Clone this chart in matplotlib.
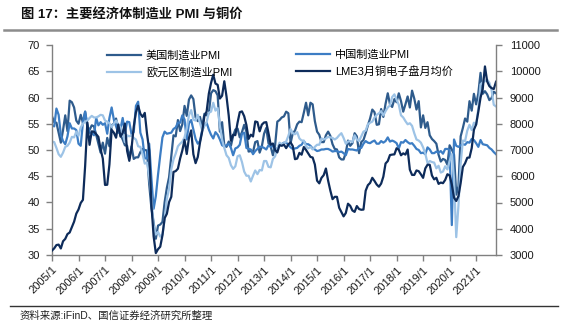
import matplotlib
matplotlib.use("Agg")
import matplotlib.pyplot as plt
import numpy as np

plt.rcParams['font.family'] = ['Liberation Sans', 'Noto Sans CJK SC', 'DejaVu Sans']

# ---------------- data (monthly, 2005/1 - 2021/10) ----------------
us_pmi = [
    56.4, 55.3, 55.2, 53.3, 51.4, 53.8, 56.6, 53.6, 59.4, 59.1, 58.1, 55.6,
    55.0, 56.7, 55.2, 57.3, 54.4, 53.8, 54.7, 54.5, 52.9, 51.2, 49.5, 51.4,
    49.3, 52.3, 50.7, 54.7, 55.0, 56.0, 53.8, 52.9, 52.0, 50.9, 50.8, 48.4,
    50.7, 48.3, 48.6, 48.6, 49.6, 50.2, 50.0, 49.9, 43.5, 38.9, 36.2, 33.1,
    35.6, 35.8, 36.3, 40.1, 42.8, 44.8, 48.9, 52.8, 52.6, 55.7, 53.6, 54.9,
    58.4, 56.5, 59.6, 60.4, 59.7, 56.2, 55.5, 56.3, 54.4, 56.9, 56.6, 57.0,
    60.8, 61.4, 61.2, 60.4, 53.5, 55.3, 50.9, 50.6, 51.6, 50.8, 52.7, 53.9,
    54.1, 52.4, 53.4, 54.8, 53.5, 49.7, 49.8, 49.6, 51.5, 51.7, 49.5, 50.7,
    53.1, 54.2, 51.3, 50.7, 49.0, 50.9, 55.4, 55.7, 56.2, 56.4, 57.3, 57.0,
    51.3, 53.2, 53.7, 54.9, 55.4, 55.3, 57.1, 59.0, 56.6, 59.0, 58.7, 55.5,
    53.5, 52.9, 51.5, 51.5, 52.8, 53.5, 52.7, 51.1, 50.2, 50.1, 48.6, 48.2,
    48.2, 49.5, 51.8, 50.8, 51.3, 53.2, 52.6, 49.4, 51.5, 51.9, 53.2, 54.7,
    56.0, 57.7, 57.2, 54.8, 54.9, 57.8, 56.3, 58.8, 60.8, 58.7, 58.2, 59.7,
    59.1, 60.8, 59.3, 57.3, 58.7, 60.2, 58.1, 61.3, 59.8, 57.7, 59.3, 54.3,
    56.6, 54.2, 55.3, 52.8, 52.1, 51.7, 51.2, 49.1, 47.8, 48.3, 48.1, 47.2,
    50.9, 50.1, 49.1, 41.5, 43.1, 52.6, 54.2, 56.0, 55.4, 59.3, 57.5, 60.7,
    58.7, 60.8, 64.7, 60.7, 61.2, 60.6, 59.5, 59.9, 61.1, 60.8,
]

china_pmi = [
    54.7, 54.5, 57.9, 56.7, 52.9, 51.7, 51.1, 52.6, 55.1, 54.1, 54.1, 53.8,
    51.2, 50.8, 55.3, 57.3, 54.8, 53.3, 53.3, 52.8, 56.1, 54.7, 55.3, 54.8,
    55.1, 53.1, 56.1, 58.1, 55.8, 54.5, 53.3, 54.0, 56.1, 53.2, 55.4, 55.3,
    53.0, 53.4, 58.4, 59.2, 53.3, 52.0, 48.4, 48.4, 51.2, 44.6, 38.8, 41.2,
    45.3, 49.0, 52.4, 53.5, 53.1, 53.2, 53.3, 54.0, 54.3, 55.2, 55.2, 56.6,
    55.8, 52.0, 55.1, 55.7, 53.9, 52.1, 51.2, 51.7, 53.8, 54.7, 55.2, 53.9,
    52.9, 52.2, 53.4, 52.9, 52.0, 50.9, 50.7, 50.9, 51.2, 50.4, 49.0, 50.3,
    50.5, 51.0, 53.1, 53.3, 50.4, 50.2, 50.1, 49.2, 49.8, 50.2, 50.6, 50.6,
    50.4, 50.1, 50.9, 50.6, 50.8, 50.1, 50.3, 51.0, 51.1, 51.4, 51.4, 51.0,
    50.5, 50.2, 50.3, 50.4, 50.8, 51.0, 51.7, 51.1, 51.1, 50.8, 50.3, 50.1,
    49.8, 49.9, 50.1, 50.1, 50.2, 50.2, 50.0, 49.7, 49.8, 49.8, 49.6, 49.7,
    49.4, 49.0, 50.2, 50.1, 50.1, 50.0, 49.9, 50.4, 50.4, 51.2, 51.7, 51.4,
    51.3, 51.6, 51.8, 51.2, 51.2, 51.7, 51.4, 51.7, 52.4, 51.6, 51.8, 51.6,
    51.3, 50.3, 51.5, 51.4, 51.9, 51.5, 51.2, 51.3, 50.8, 50.2, 50.0, 49.4,
    49.5, 49.2, 50.5, 50.1, 49.4, 49.4, 49.7, 49.5, 49.8, 49.3, 50.2, 50.2,
    50.0, 35.7, 52.0, 50.8, 50.6, 50.9, 51.1, 51.0, 51.5, 51.4, 52.1, 51.9,
    51.3, 50.6, 51.9, 51.1, 51.0, 50.9, 50.4, 50.1, 49.6, 49.2,
]

euro_pmi = [
    51.6, 51.5, 50.4, 49.2, 48.7, 49.5, 50.6, 50.8, 51.4, 52.5, 52.4, 53.5,
    52.7, 54.3, 55.0, 55.4, 55.6, 56.1, 56.5, 56.2, 56.2, 56.4, 56.7, 56.6,
    55.6, 55.4, 55.1, 54.4, 55.0, 55.6, 54.9, 54.3, 53.2, 51.5, 52.8, 52.6,
    52.8, 52.3, 52.0, 50.7, 50.6, 49.2, 47.4, 47.6, 45.0, 41.1, 35.6, 33.9,
    34.4, 33.5, 33.9, 36.8, 40.7, 42.6, 46.3, 48.2, 49.3, 50.7, 51.2, 51.6,
    52.4, 54.2, 56.6, 57.6, 55.8, 55.6, 56.7, 55.1, 53.7, 54.6, 55.3, 57.1,
    57.3, 59.0, 57.5, 58.0, 54.6, 52.0, 50.4, 49.0, 48.5, 47.1, 46.4, 46.9,
    48.8, 49.0, 47.7, 45.9, 45.1, 45.1, 44.0, 45.1, 46.1, 45.4, 46.2, 46.1,
    47.9, 47.9, 46.8, 46.7, 48.3, 48.8, 50.3, 51.4, 51.1, 51.3, 51.6, 52.7,
    54.0, 53.2, 53.0, 53.4, 52.2, 51.8, 51.8, 50.7, 50.3, 50.6, 50.1, 50.6,
    51.0, 51.0, 52.2, 52.0, 52.2, 52.5, 52.4, 52.3, 52.0, 52.3, 52.8, 53.2,
    52.3, 51.2, 51.6, 51.7, 51.5, 52.8, 52.0, 51.7, 52.6, 53.5, 53.7, 54.9,
    55.2, 55.4, 56.2, 56.7, 57.0, 57.4, 56.6, 57.4, 58.1, 58.5, 60.1, 60.6,
    59.6, 58.6, 56.6, 56.2, 55.5, 54.9, 55.1, 54.6, 53.2, 52.0, 51.8, 51.4,
    50.5, 49.3, 47.5, 47.9, 47.7, 47.6, 46.5, 47.0, 45.7, 45.9, 46.9, 46.3,
    47.9, 49.2, 44.5, 33.4, 39.4, 47.4, 51.8, 51.7, 53.7, 54.8, 53.8, 55.2,
    54.8, 57.9, 62.5, 62.9, 63.1, 63.4, 62.8, 61.4, 58.6, 58.3,
]

lme_copper = [
    3170, 3254, 3379, 3396, 3249, 3524, 3614, 3797, 3857, 4059, 4269, 4576,
    4734, 4982, 5102, 6387, 8046, 7197, 7711, 7695, 7602, 7500, 7029, 6674,
    5669, 5676, 6452, 7766, 7660, 7469, 7972, 7510, 7650, 8008, 6967, 6588,
    7061, 7888, 8439, 8685, 8383, 8260, 8414, 7633, 6990, 4926, 3717, 3072,
    3221, 3315, 3750, 4407, 4569, 5014, 5216, 6165, 6196, 6288, 6676, 6982,
    7386, 6848, 7463, 7745, 6838, 6499, 6735, 7284, 7709, 8292, 8470, 9147,
    9556, 9868, 9530, 9483, 8960, 9067, 9619, 9040, 8315, 7351, 7581, 7566,
    8041, 8441, 8471, 8289, 7955, 7423, 7584, 7515, 8088, 8062, 7711, 7966,
    8047, 8061, 7645, 7202, 7248, 7000, 6907, 7186, 7159, 7203, 7071, 7215,
    7291, 7149, 6650, 6674, 6891, 6821, 7113, 7002, 6872, 6737, 6713, 6446,
    5831, 5729, 5940, 6042, 6295, 5833, 5457, 5127, 5217, 5216, 4800, 4639,
    4472, 4599, 4954, 4873, 4696, 4642, 4864, 4751, 4723, 4731, 5450, 5660,
    5744, 5941, 5821, 5684, 5600, 5720, 5985, 6486, 6578, 6808, 6825, 6834,
    7066, 7007, 6799, 6873, 6824, 7018, 6251, 6051, 6050, 6220, 6194, 6073,
    5939, 6300, 6439, 6438, 6029, 5881, 5941, 5709, 5760, 5736, 5860, 6077,
    6031, 5687, 5183, 5058, 5239, 5742, 6354, 6494, 6705, 6713, 7071, 7772,
    7971, 8461, 8994, 9335, 10184, 9612, 9432, 9357, 9324, 9600,
]

year_labels = [f"{y}/1" for y in range(2005, 2022)]
series_names = ["美国制造业PMI", "中国制造业PMI", "欧元区制造业PMI", "LME3月铜电子盘月均价"]

# ---------------- styling ----------------
c_us = "#2E5B8C"
c_cn = "#3C7DC4"
c_eu = "#9DC3E6"
c_cu = "#0D2B5A"
axis_grey = "#808080"
lw = 1.6

W, H = 561, 326
fig = plt.figure(figsize=(W / 100, H / 100), dpi=100)
x0, x1, y0, y1 = 52, 496, 45, 255
ax = fig.add_axes([x0 / W, 1 - y1 / H, (x1 - x0) / W, (y1 - y0) / H])
ax2 = ax.twinx()

l_us, = ax.plot(np.arange(len(us_pmi)), us_pmi, color=c_us, lw=lw)
l_cn, = ax.plot(np.arange(len(china_pmi)), china_pmi, color=c_cn, lw=lw)
l_eu, = ax.plot(np.arange(len(euro_pmi)), euro_pmi, color=c_eu, lw=lw)
l_cu, = ax2.plot(np.arange(len(lme_copper)), lme_copper, color=c_cu, lw=lw)

n = len(us_pmi)
ax.set_xlim(0, n - 1)
ax.set_ylim(30, 70)
ax.set_yticks(np.arange(30, 71, 5))
ax2.set_ylim(3000, 11000)
ax2.set_yticks(np.arange(3000, 11001, 1000))

ax.set_xticks(np.arange(0, n, 12))
ax.set_xticklabels(year_labels, rotation=45, ha="right", rotation_mode="anchor")

for a in (ax, ax2):
    a.spines["top"].set_visible(False)
    for s in ("left", "right", "bottom"):
        a.spines[s].set_color(axis_grey)
        a.spines[s].set_linewidth(1.0)
    a.patch.set_visible(False)

ax.spines["right"].set_visible(False)
ax2.spines["left"].set_visible(False)
ax2.spines["bottom"].set_visible(False)

ax.tick_params(axis="y", direction="out", length=4, width=1, color=axis_grey,
               labelsize=8, pad=5, labelcolor="#1a1a1a")
ax.tick_params(axis="x", direction="out", length=4, width=1, color=axis_grey,
               labelsize=8, pad=3, labelcolor="#1a1a1a")
ax2.tick_params(axis="y", direction="out", length=4, width=1, color=axis_grey,
                labelsize=8, pad=6, labelcolor="#1a1a1a")

leg_kw = dict(frameon=False, fontsize=8, handlelength=3.1, handletextpad=0.4,
              labelspacing=0.55, borderpad=0, borderaxespad=0, loc="upper left")
leg1 = ax2.legend([l_us, l_eu], [series_names[0], series_names[2]],
                  bbox_to_anchor=(107 / W, 1 - 50 / H), bbox_transform=fig.transFigure, **leg_kw)
ax2.add_artist(leg1)
ax2.legend([l_cn, l_cu], [series_names[1], series_names[3]],
           bbox_to_anchor=(296 / W, 1 - 50 / H), bbox_transform=fig.transFigure, **leg_kw)

# title, rules and source
fig.text(21 / W, 1 - 15 / H, "图 17：主要经济体制造业 PMI 与铜价", fontsize=9.5,
         fontweight="bold", va="center", ha="left", color="#111111")
fig.add_artist(plt.Line2D([4 / W, 557 / W], [1 - 29.5 / H, 1 - 29.5 / H],
                          color="#8c8c8c", lw=1.8, transform=fig.transFigure))
fig.add_artist(plt.Line2D([10 / W, 558 / W], [1 - 306 / H, 1 - 306 / H],
                          color="#333333", lw=1.0, transform=fig.transFigure))
fig.text(20 / W, 1 - 316 / H, "资料来源:iFinD、国信证券经济研究所整理", fontsize=7.5,
         va="center", ha="left", color="#222222")

fig.savefig("out.png", dpi=100)
